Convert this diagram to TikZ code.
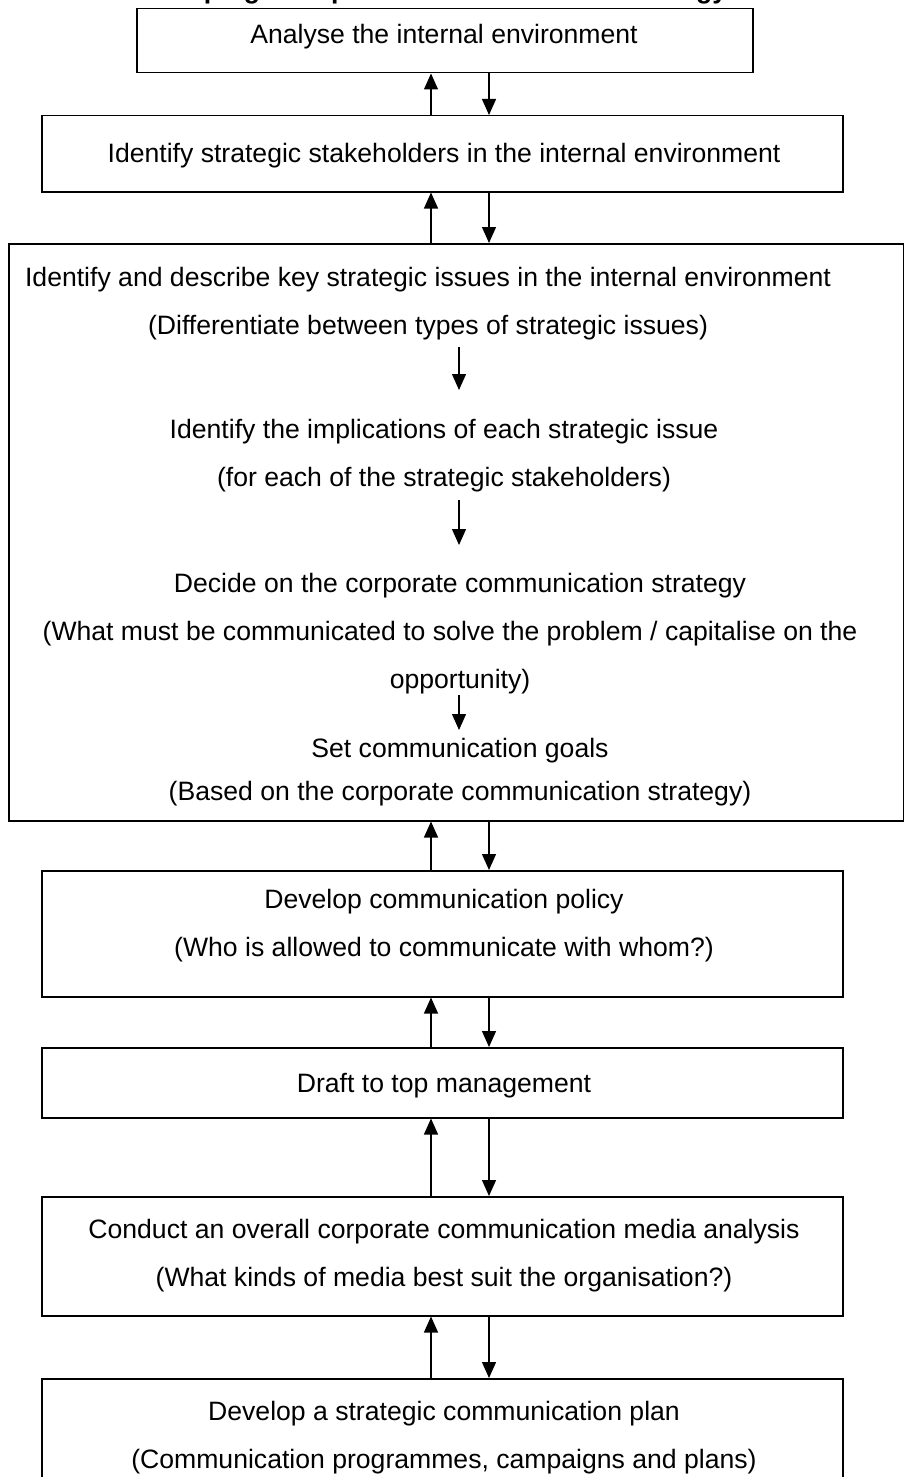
\documentclass[tikz,border=0pt]{standalone}
\usepackage{fontspec}
\setmainfont{Liberation Sans}
\usetikzlibrary{arrows.meta}

\begin{document}
\begin{tikzpicture}[x=1pt,y=-1pt,
  box/.style={draw,line width=1.5pt,inner sep=0pt,anchor=north west},
  txt/.style={anchor=base,inner sep=0pt,font=\fontsize{26.6}{32}\selectfont},
  ttl/.style={anchor=base,inner sep=0pt,font=\fontsize{26.6}{32}\selectfont\bfseries},
  arr/.style={line width=1.3pt,-{Triangle[length=16pt,width=14pt]}}]
\useasboundingbox (0,0) rectangle (904,1477);
\clip (0,0) rectangle (904,1477);

% heading (sits above the frame, only its descenders show)
\node[ttl] (title) at (422,-1.5) {Developing a corporate communication strategy};

% outer boxes
\node[box,minimum width=616,minimum height=64] (b1) at (136,8) {};
\node[box,minimum width=801,minimum height=76] (b2) at (41,115) {};
\node[box,minimum width=895,minimum height=577] (b3) at (8,243) {};
\node[box,minimum width=801,minimum height=126] (b4) at (41,870) {};
\node[box,minimum width=801,minimum height=70] (b5) at (41,1047) {};
\node[box,minimum width=801,minimum height=119] (b6) at (41,1196) {};
\node[box,minimum width=801,minimum height=140] (b7) at (41,1378) {};

% box texts
\node[txt] (t1) at (444,44) {Analyse the internal environment};
\node[txt] (t2) at (444,162) {Identify strategic stakeholders in the internal environment};

\node[txt] (t3a) at (428,286) {Identify and describe key strategic issues in the internal environment};
\node[txt] (t3b) at (428,334) {(Differentiate between types of strategic issues)};
\node[txt] (t3c) at (444,438) {Identify the implications of each strategic issue};
\node[txt] (t3d) at (444,486) {(for each of the strategic stakeholders)};
\node[txt] (t3e) at (460,592) {Decide on the corporate communication strategy};
\node[txt] (t3f) at (450,640) {(What must be communicated to solve the problem / capitalise on the};
\node[txt] (t3g) at (460,688) {opportunity)};
\node[txt] (t3h) at (460,757) {Set communication goals};
\node[txt] (t3i) at (460,800) {(Based on the corporate communication strategy)};

\node[txt] (t4a) at (444,908) {Develop communication policy};
\node[txt] (t4b) at (444,956) {(Who is allowed to communicate with whom?)};
\node[txt] (t5) at (444,1092) {Draft to top management};
\node[txt] (t6a) at (444,1238) {Conduct an overall corporate communication media analysis};
\node[txt] (t6b) at (444,1286) {(What kinds of media best suit the organisation?)};
\node[txt] (t7a) at (444,1420) {Develop a strategic communication plan};
\node[txt] (t7b) at (444,1468) {(Communication programmes, campaigns and plans)};

% x positions of the paired connectors
\coordinate (up) at (431,0);
\coordinate (dn) at (489,0);

% paired connectors between the boxes
\foreach \a/\b in {b1/b2,b2/b3,b3/b4,b4/b5,b5/b6,b6/b7}{
  \draw[arr] (\b.north -| up) -- (\a.south -| up);
  \draw[arr] (\a.south -| dn) -- (\b.north -| dn);
}

% steps inside the large box
\coordinate (s1) at (459,347);
\coordinate (e1) at (459,390);
\coordinate (s2) at (459,500);
\coordinate (e2) at (459,545);
\coordinate (s3) at (459,695);
\coordinate (e3) at (459,730);
\draw[arr] (s1) -- (e1);
\draw[arr] (s2) -- (e2);
\draw[arr] (s3) -- (e3);
\end{tikzpicture}
\end{document}
